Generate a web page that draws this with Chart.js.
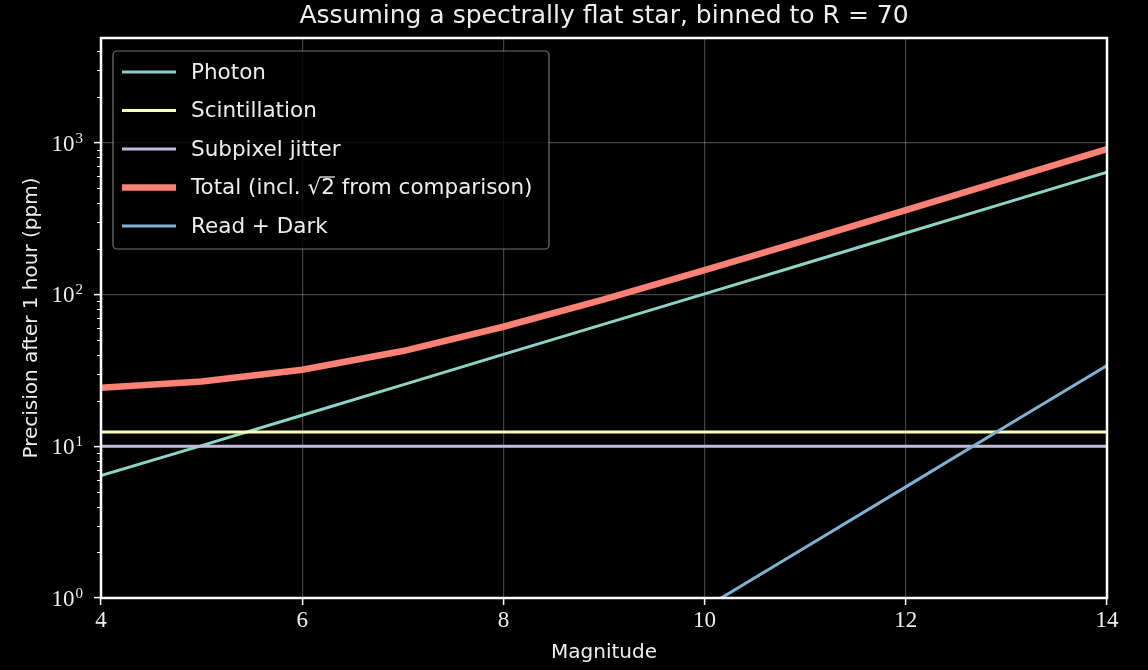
<!doctype html>
<html lang="en">
<head>
    <meta charset="utf-8">
    <title>Precision vs magnitude</title>
    <script src="https://cdn.jsdelivr.net/npm/chart.js@4.4.0/dist/chart.umd.min.js"></script>
    <style>
        body { margin: 0; background: #000; }
        #chart { display: block; }
    </style>
</head>
<body>
    <canvas id="chart" width="1148" height="670"></canvas>
<script>
    // values (ppm after 1 hour)
    const magnitudes = [4, 5, 6, 7, 8, 9, 10, 11, 12, 13, 14];
    const photon = [6.4, 10.1, 16.0, 25.4, 40.3, 63.8, 101, 160, 254, 403, 640];
    const scintillation = [12.4, 12.4, 12.4, 12.4, 12.4, 12.4, 12.4, 12.4, 12.4, 12.4, 12.4];
    const jitter = [10, 10, 10, 10, 10, 10, 10, 10, 10, 10, 10];
    const total = [24.3, 26.7, 31.9, 42.4, 61.3, 93.0, 144.6, 227.4, 360, 571, 907];
    const readDark = [0.0034, 0.0085, 0.021, 0.054, 0.136, 0.34, 0.86, 2.15, 5.4, 13.6, 34];

    const xTicks = [4, 6, 8, 10, 12, 14];
    const yMin = 1, yMax = 4900;
    const titleText = 'Assuming a spectrally flat star, binned to R = 70';

    const sans = "'DejaVu Sans', sans-serif";
    const serif = "'Liberation Serif', 'DejaVu Serif', serif";
    const textColor = '#eeeeee';
    const gridColor = 'rgba(255,255,255,0.26)';

    let pts = (ys) => magnitudes.map((m, i) => ({ x: m, y: ys[i] }));
    let isPow10 = (v) => Math.abs(Math.log10(v) - Math.round(Math.log10(v))) < 1e-9;

    let series = [
        { label: 'Photon', data: photon, color: '#8dd3c7', width: 3, order: 5 },
        { label: 'Scintillation', data: scintillation, color: '#feffb3', width: 3, order: 4 },
        { label: 'Subpixel jitter', data: jitter, color: '#bfbbd9', width: 3, order: 3 },
        { label: 'Total (incl. \u221a2 from comparison)', data: total, color: '#fa8174', width: 6.5, order: 2 },
        { label: 'Read + Dark', data: readDark, color: '#81b1d2', width: 3, order: 1 }
    ];

    // title over the axes, frame, log tick labels, minor ticks and the legend box
    let decorations = {
        id: 'decorations',
        beforeDraw: (chart) => {
            let ctx = chart.ctx;
            ctx.save();
            ctx.fillStyle = '#000';
            ctx.fillRect(0, 0, chart.width, chart.height);
            ctx.restore();
        },
        afterDatasetsDraw: (chart) => {
            let ctx = chart.ctx;
            let a = chart.chartArea;
            let ys = chart.scales.y;
            ctx.save();

            ctx.fillStyle = textColor;
            ctx.font = "25px " + sans;
            ctx.textAlign = 'center';
            ctx.textBaseline = 'middle';
            ctx.fillText(titleText, (a.left + a.right) / 2, 16);

            ctx.strokeStyle = '#ffffff';
            ctx.lineWidth = 1;
            ys.ticks.forEach(t => {
                let v = t.value;
                if (v >= yMax) return;
                let py = ys.getPixelForValue(v);
                if (isPow10(v)) {
                    // 10^n label
                    let e = String(Math.round(Math.log10(v)));
                    ctx.fillStyle = textColor;
                    ctx.textBaseline = 'alphabetic';
                    ctx.textAlign = 'right';
                    ctx.font = "15px " + serif;
                    let ew = ctx.measureText(e).width;
                    ctx.fillText(e, a.left - 18, py + 0);
                    ctx.font = "23px " + serif;
                    ctx.fillText('10', a.left - 19 - ew, py + 8);
                    return;
                }
                let mant = v / Math.pow(10, Math.floor(Math.log10(v) + 1e-9));
                if (Math.abs(mant - Math.round(mant)) > 1e-6) return;
                let y0 = Math.round(py) + 0.5;
                ctx.beginPath();
                ctx.moveTo(a.left - 4, y0);
                ctx.lineTo(a.left, y0);
                ctx.stroke();
            });
            // spines
            ctx.lineWidth = 2.5;
            ctx.strokeRect(a.left, a.top, a.right - a.left, a.bottom - a.top);

            // legend
            let bx = 113, by = 51, bw = 436, bh = 198;
            ctx.beginPath();
            ctx.roundRect(bx, by, bw, bh, 4);
            ctx.fillStyle = 'rgba(0,0,0,0.8)';
            ctx.fill();
            ctx.strokeStyle = 'rgba(255,255,255,0.45)';
            ctx.lineWidth = 1.2;
            ctx.stroke();
            ctx.font = "21.5px " + sans;
            ctx.textAlign = 'left';
            ctx.textBaseline = 'middle';
            chart.data.datasets.forEach((ds, i) => {
                let ry = 72 + i * 38.5;
                ctx.strokeStyle = ds.borderColor;
                ctx.lineWidth = ds.borderWidth;
                ctx.beginPath();
                ctx.moveTo(122, ry);
                ctx.lineTo(176, ry);
                ctx.stroke();
                ctx.fillStyle = textColor;
                ctx.fillText(ds.label, 191, ry + 1);
                let k = ds.label.indexOf('\u221a');
                if (k >= 0) {
                    // bar over the radicand
                    let x0 = 191 + ctx.measureText(ds.label.slice(0, k + 1)).width - 1;
                    let x1 = 191 + ctx.measureText(ds.label.slice(0, k + 2)).width;
                    ctx.strokeStyle = textColor;
                    ctx.lineWidth = 1.3;
                    ctx.beginPath();
                    ctx.moveTo(x0, ry - 10.5);
                    ctx.lineTo(x1, ry - 10.5);
                    ctx.stroke();
                }
            });
            ctx.restore();
        }
    };

    let chart = new Chart(document.getElementById('chart'), {
        type: 'line',
        data: {
            datasets: series.map(s => ({
                label: s.label,
                data: pts(s.data),
                borderColor: s.color,
                backgroundColor: s.color,
                borderWidth: s.width,
                order: s.order,
                pointRadius: 0,
                tension: 0,
                clip: 0
            }))
        },
        options: {
            responsive: false,
            animation: false,
            layout: { padding: { left: 0, right: 41, top: 38, bottom: 0 } },
            plugins: {
                legend: { display: false },
                tooltip: { enabled: false },
                title: { display: false }
            },
            scales: {
                x: {
                    type: 'linear',
                    min: 4,
                    max: 14,
                    afterFit: (s) => { s.height = 72; },
                    afterBuildTicks: (s) => { s.ticks = xTicks.map(v => ({ value: v })); },
                    ticks: {
                        color: textColor,
                        font: { family: serif, size: 23 },
                        padding: 2,
                        maxRotation: 0
                    },
                    grid: {
                        color: gridColor,
                        lineWidth: 1.2,
                        tickColor: '#ffffff',
                        tickLength: 7,
                        tickWidth: 1.5
                    },
                    border: { display: false },
                    title: {
                        display: true,
                        text: 'Magnitude',
                        color: textColor,
                        font: { family: sans, size: 20 },
                        padding: { top: 0, bottom: 5 }
                    }
                },
                y: {
                    type: 'logarithmic',
                    min: yMin,
                    max: yMax,
                    afterFit: (s) => { s.width = 101; },
                    ticks: {
                        autoSkip: false,
                        color: textColor,
                        font: { family: serif, size: 20 },
                        padding: 4,
                        callback: () => ''
                    },
                    grid: {
                        color: (c) => (c.tick && isPow10(c.tick.value) && c.tick.value > yMin) ? gridColor : 'rgba(0,0,0,0)',
                        lineWidth: 1.2,
                        tickColor: (c) => (c.tick && isPow10(c.tick.value)) ? '#ffffff' : 'rgba(0,0,0,0)',
                        tickLength: 7,
                        tickWidth: 1.5
                    },
                    border: { display: false },
                    title: {
                        display: true,
                        text: 'Precision after 1 hour (ppm)',
                        color: textColor,
                        font: { family: sans, size: 20 },
                        padding: { top: 20, bottom: 0 }
                    }
                }
            }
        },
        plugins: [decorations]
    });
</script>
</body>
</html>
